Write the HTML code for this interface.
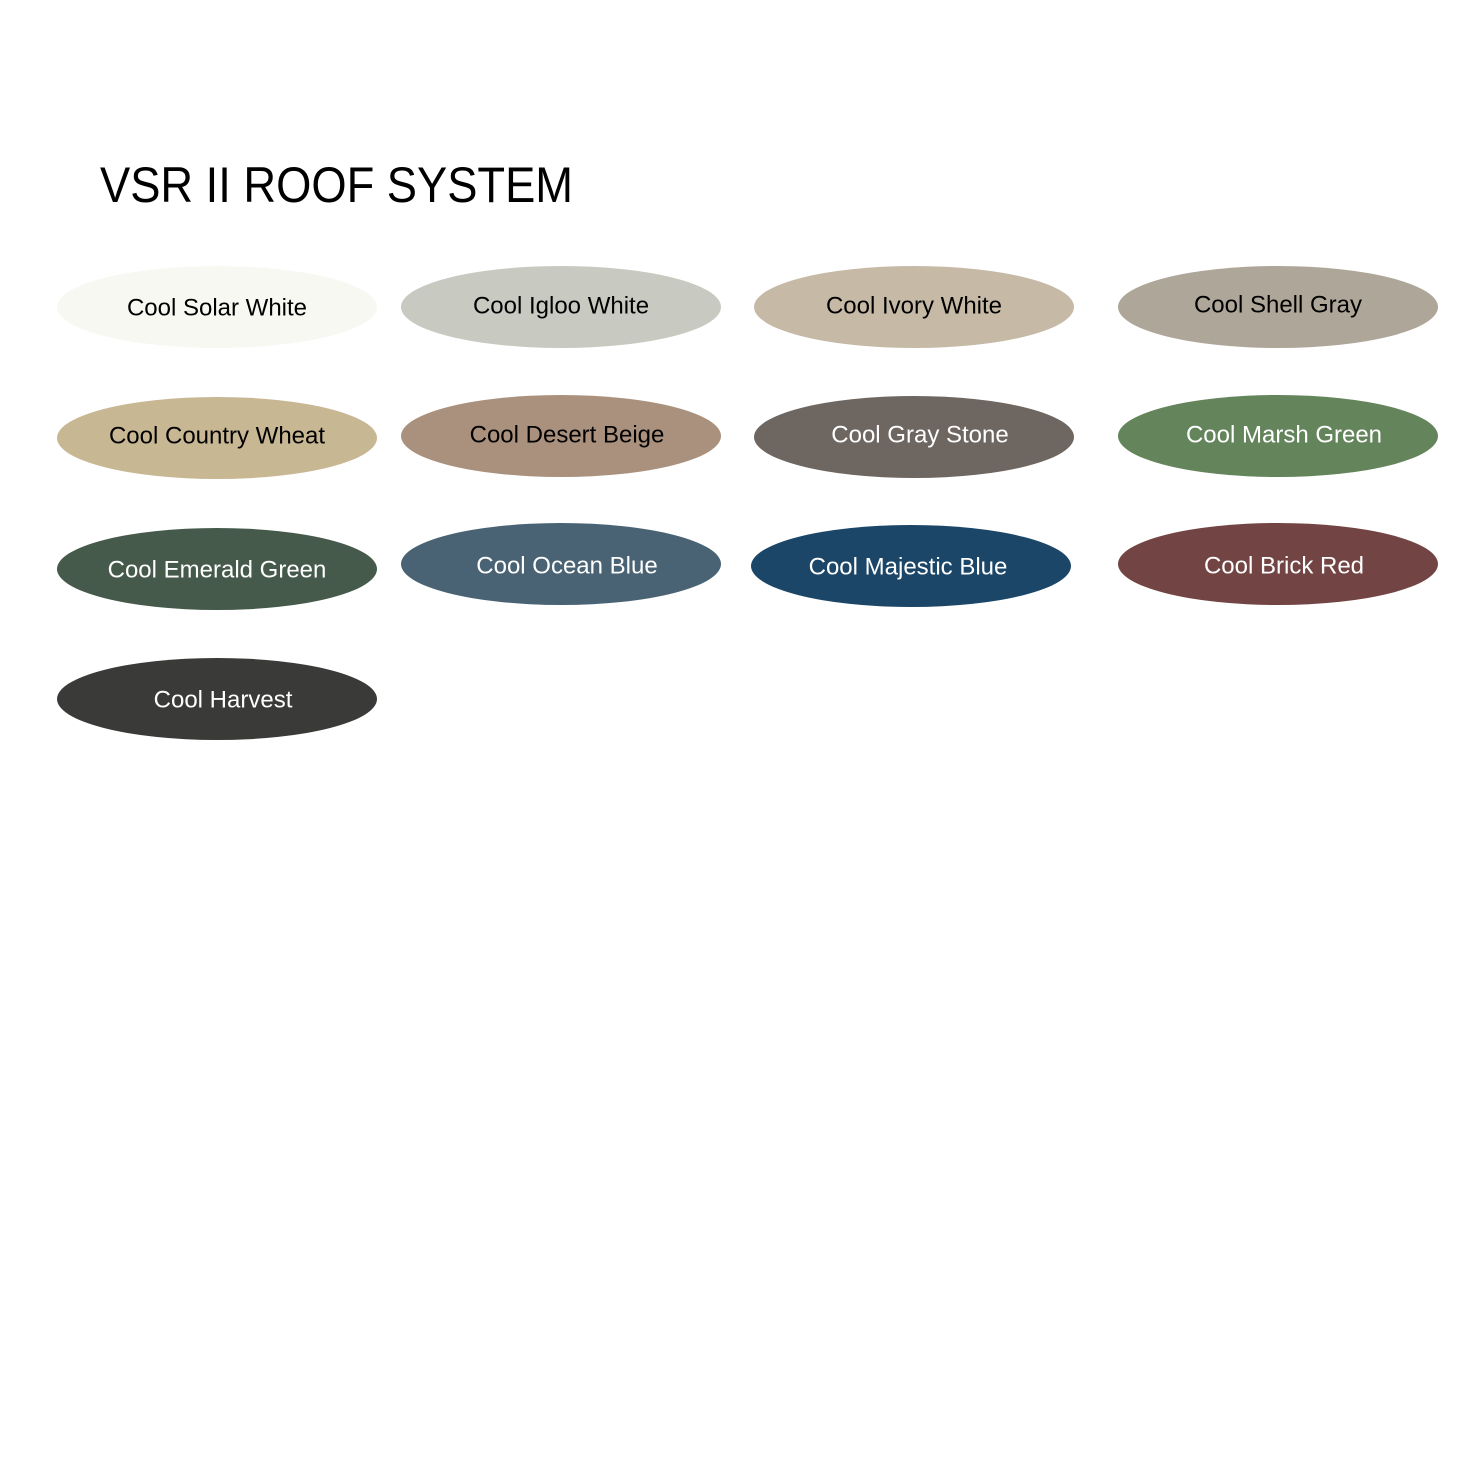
<!DOCTYPE html>
<html><head><meta charset="utf-8"><style>
html,body{margin:0;padding:0;background:#fff;}
svg{display:block;}
text{font-family:"Liberation Sans",sans-serif;font-size:24px;text-anchor:middle;dominant-baseline:central;}
</style></head><body>
<svg width="1459" height="1459" viewBox="0 0 1459 1459">
<text x="100" y="185" textLength="473" lengthAdjust="spacingAndGlyphs" style="font-size:50px;text-anchor:start;fill:#000">VSR II ROOF SYSTEM</text>
<ellipse cx="217" cy="307" rx="160" ry="41" fill="#f8f8f3"/><text x="217" y="308" fill="#000">Cool Solar White</text>
<ellipse cx="561" cy="307" rx="160" ry="41" fill="#c8c9c0"/><text x="561" y="306" fill="#000">Cool Igloo White</text>
<ellipse cx="914" cy="307" rx="160" ry="41" fill="#c6b9a6"/><text x="914" y="306" fill="#000">Cool Ivory White</text>
<ellipse cx="1278" cy="307" rx="160" ry="41" fill="#aea698"/><text x="1278" y="305" fill="#000">Cool Shell Gray</text>
<ellipse cx="217" cy="438" rx="160" ry="41" fill="#c8b793"/><text x="217" y="436" fill="#000">Cool Country Wheat</text>
<ellipse cx="561" cy="436" rx="160" ry="41" fill="#a9917d"/><text x="567" y="435" fill="#000">Cool Desert Beige</text>
<ellipse cx="914" cy="437" rx="160" ry="41" fill="#6e6660"/><text x="920" y="435" fill="#fff">Cool Gray Stone</text>
<ellipse cx="1278" cy="436" rx="160" ry="41" fill="#64845c"/><text x="1284" y="435" fill="#fff">Cool Marsh Green</text>
<ellipse cx="217" cy="569" rx="160" ry="41" fill="#455a4b"/><text x="217" y="570" fill="#fff">Cool Emerald Green</text>
<ellipse cx="561" cy="564" rx="160" ry="41" fill="#496374"/><text x="567" y="566" fill="#fff">Cool Ocean Blue</text>
<ellipse cx="911" cy="566" rx="160" ry="41" fill="#1b4667"/><text x="908" y="567" fill="#fff">Cool Majestic Blue</text>
<ellipse cx="1278" cy="564" rx="160" ry="41" fill="#724443"/><text x="1284" y="566" fill="#fff">Cool Brick Red</text>
<ellipse cx="217" cy="699" rx="160" ry="41" fill="#3a3a38"/><text x="223" y="700" fill="#fff">Cool Harvest</text>
</svg>
</body></html>
